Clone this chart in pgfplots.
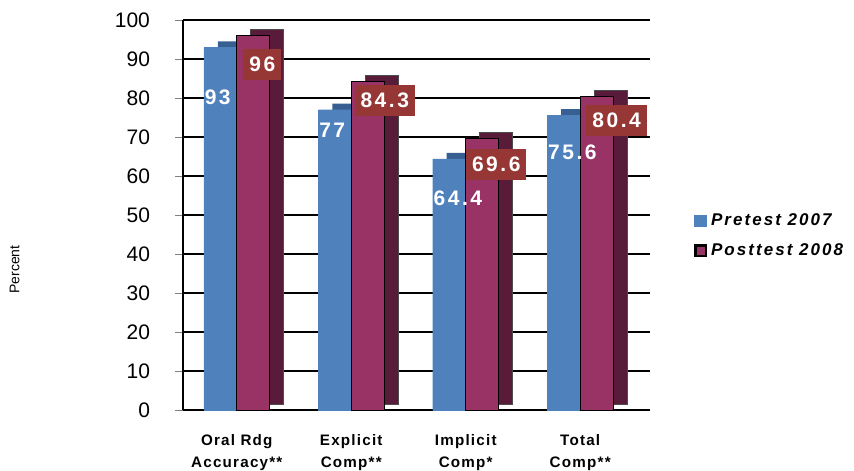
\documentclass[border=0pt]{standalone}
\usepackage{fontspec}
\setmainfont{Liberation Sans}
\newfontfamily\spaced[LetterSpace=12]{Liberation Sans}
\newfontfamily\spacedb[LetterSpace=8]{Liberation Sans}
\usepackage{pgfplots}
\usepackage{pgfplotstable}
\pgfplotsset{compat=1.18}
\definecolor{preblue}{RGB}{79,129,189}
\definecolor{preside}{RGB}{55,95,145}
\definecolor{postred}{RGB}{153,51,102}
\definecolor{postside}{RGB}{88,28,58}
\definecolor{boxred}{RGB}{150,55,53}
\pgfplotstableread{
x y dy dx
0 93 -25 0
1 77 -10.5 0
2 64.4 -19.5 0
3 75.6 -18.5 0
}\pre
\pgfplotstableread{
x y dy dx
0 96 -14.5 4.5
1 84.3 -9.5 8.5
2 69.6 -13 7
3 80.4 -12 10
}\post
\begin{document}
\begin{tikzpicture}
\path[use as bounding box] (0,0) rectangle (427pt,235pt);
\begin{axis}[
  at={(91.5pt,30pt)}, anchor=south west,
  scale only axis, width=233.5pt, height=195pt,
  xmin=-0.47, xmax=3.61, ymin=0, ymax=100,
  ytick={0,10,...,100},
  xtick={0,1,2,3},
  xticklabels={{Oral Rdg\\Accuracy**},{Explicit\\Comp**},{Implicit\\Comp*},{Total\\Comp**}},
  xticklabel style={align=center, font=\spacedb\bfseries\fontsize{7.6}{11}\selectfont, yshift=-4.5pt},
  major x tick style={draw=none},
  yticklabel style={font=\fontsize{10.5}{12}\selectfont, xshift=-9pt},
  /pgf/number format/assume math mode=true,
  tick align=outside, major tick length=4pt,
  axis lines*=left,
  axis line style={black, line width=0.9pt},
  ymajorgrids, grid style={black, line width=0.8pt},
  ylabel={Percent},
  ylabel style={at={(axis description cs:-0.335,0.36)}, font=\fontsize{7}{8}\selectfont},
  ybar=0pt, bar width=16.5pt,
  clip=false,
  legend style={at={(axis description cs:1.094,0.515)}, anchor=north west, draw=none, fill=none,
    font=\spaced\itshape\bfseries\fontsize{8.5}{10}\selectfont, row sep=3.5pt, inner sep=0pt},
  legend cell align=left,
  legend image code/.code={\draw[#1, line width=1.2pt] (0pt,-2.6pt) rectangle (5.2pt,2.6pt);},
]
% 3D depth (side/top faces)
\addplot[fill=preside, draw=none, bar shift=-8.25pt, xshift=7pt, yshift=3pt, forget plot] table[x=x,y=y]{\pre};
\addplot[fill=preblue, draw=preblue, line width=0.1pt, bar shift=-8.25pt] table[x=x,y=y]{\pre};
\addlegendentry{Pretest 2007}
\addplot[fill=postside, draw=black!70, line width=0.3pt, bar shift=8.25pt, xshift=7pt, yshift=3pt, forget plot] table[x=x,y=y]{\post};
\addplot[fill=postred, draw=black, line width=0.3pt, bar shift=8.25pt,
  nodes near coords,
  visualization depends on={\thisrow{dy}\as\dy},
  visualization depends on={\thisrow{dx}\as\dx},
  every node near coord/.append style={anchor=center, xshift=\dx pt, yshift=\dy pt,
     fill=boxred, draw=none, text=white, inner xsep=3pt, minimum height=15.5pt, line width=0pt,
     font=\spaced\bfseries\fontsize{10.5}{12}\selectfont}
] table[x=x,y=y]{\post};
\addlegendentry{Posttest 2008}
% pretest value labels, drawn last so they sit on top
\addplot[draw=none, fill=none, bar shift=-8.25pt, forget plot,
  nodes near coords,
  visualization depends on={\thisrow{dy}\as\dy},
  every node near coord/.append style={anchor=west, inner xsep=0.3pt, xshift=-8.25pt, yshift=\dy pt,
     text=white, font=\spaced\bfseries\fontsize{10.5}{12}\selectfont}
] table[x=x,y=y]{\pre};
\end{axis}
\end{tikzpicture}
\end{document}
